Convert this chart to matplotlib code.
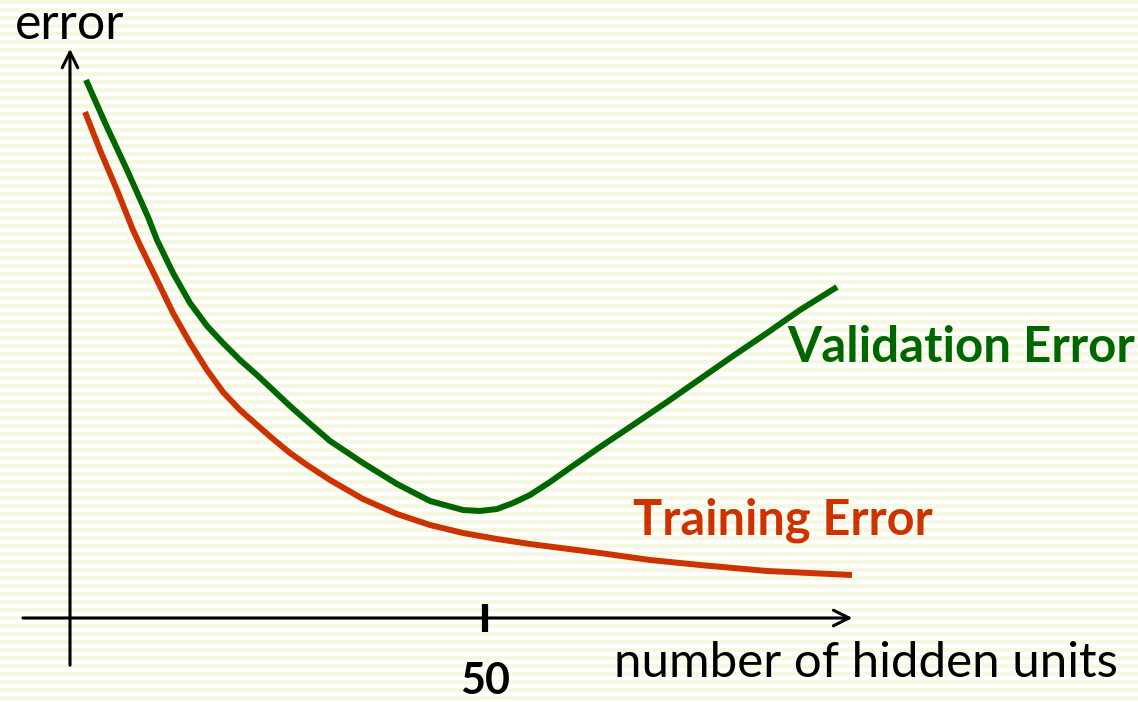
import numpy as np
import matplotlib
matplotlib.use("Agg")
import matplotlib.pyplot as plt

# curve values (x = hidden units, y = error, arbitrary units)
val_x = [1.93, 4.34, 6.87, 9.40, 10.48, 12.41, 14.46, 16.51, 18.43, 20.48, 22.53,
         24.46, 26.51, 28.55, 31.33, 35.30, 39.40, 43.37, 47.35, 49.40, 51.45,
         53.37, 55.42, 57.83, 59.88, 63.86, 67.83, 71.93, 75.90, 79.88, 83.98,
         87.95, 92.41]
val_y = [5.38, 4.93, 4.48, 4.01, 3.78, 3.45, 3.15, 2.92, 2.75, 2.58, 2.43,
         2.28, 2.12, 1.97, 1.77, 1.55, 1.34, 1.17, 1.08, 1.07, 1.09,
         1.15, 1.23, 1.36, 1.48, 1.71, 1.93, 2.16, 2.39, 2.62, 2.85,
         3.08, 3.31]

train_x = [1.81, 3.61, 5.66, 7.59, 8.43, 10.48, 12.41, 14.46, 16.51, 18.43, 20.48,
           22.53, 24.46, 26.51, 28.55, 31.33, 35.30, 39.40, 43.37, 47.35, 51.45,
           55.42, 63.86, 69.88, 75.90, 83.98, 94.22]
train_y = [5.06, 4.68, 4.28, 3.88, 3.73, 3.38, 3.05, 2.75, 2.48, 2.26, 2.08,
           1.93, 1.79, 1.65, 1.53, 1.38, 1.19, 1.04, 0.93, 0.85, 0.79,
           0.74, 0.65, 0.58, 0.53, 0.47, 0.43]

tick_values = [50]
tick_labels = ["50"]

GREEN = "#006600"
RED = "#CC3300"
FONT = "Lato"

fig = plt.figure(figsize=(11.38, 7.02), dpi=100)

# striped background
bg = fig.add_axes([0, 0, 1, 1])
rows = (np.arange(702) % 8) < 4
stripes = np.where(rows[:, None], 0.0, 1.0)
bg.imshow(stripes, aspect="auto", cmap=matplotlib.colors.ListedColormap(["#F7F8E2", "#FFFFFF"]),
          interpolation="nearest", extent=[0, 1, 0, 1])
bg.axis("off")

ax = fig.add_axes([0, 0, 1, 1])
ax.patch.set_alpha(0)
ax.set_xlim(-70 / 8.3, 1068 / 8.3)
ax.set_ylim(-0.84, 6.18)
ax.axis("off")

# axes arrows
arrow = dict(arrowstyle="->", lw=2.2, color="black", mutation_scale=28)
ax.annotate("", xy=(94.6, 0), xytext=(-6.0, 0), arrowprops=arrow)
ax.annotate("", xy=(0, 5.72), xytext=(0, -0.5), arrowprops=arrow)

for t, lab in zip(tick_values, tick_labels):
    ax.plot([t, t], [-0.14, 0.14], color="black", lw=4.5, solid_capstyle="butt")
    ax.text(t, -0.63, lab, ha="center", va="center", fontsize=31,
            fontweight="bold", family=FONT)

ax.plot(val_x, val_y, color=GREEN, lw=4.3, solid_capstyle="butt", solid_joinstyle="round")
ax.plot(train_x, train_y, color=RED, lw=4.3, solid_capstyle="butt", solid_joinstyle="round")

ax.text(-6.6, 5.93, "error", ha="left", va="center", fontsize=36, family=FONT)
ax.text(126.3, -0.45, "number of hidden units", ha="right", va="center",
        fontsize=35.5, family=FONT)
ax.text(86.4, 2.71, "Validation Error", ha="left", va="center", fontsize=35.5,
        fontweight="bold", color=GREEN, family=FONT)
ax.text(67.8, 0.98, "Training Error", ha="left", va="center", fontsize=35,
        fontweight="bold", color=RED, family=FONT)

fig.savefig("out.png", dpi=100)
